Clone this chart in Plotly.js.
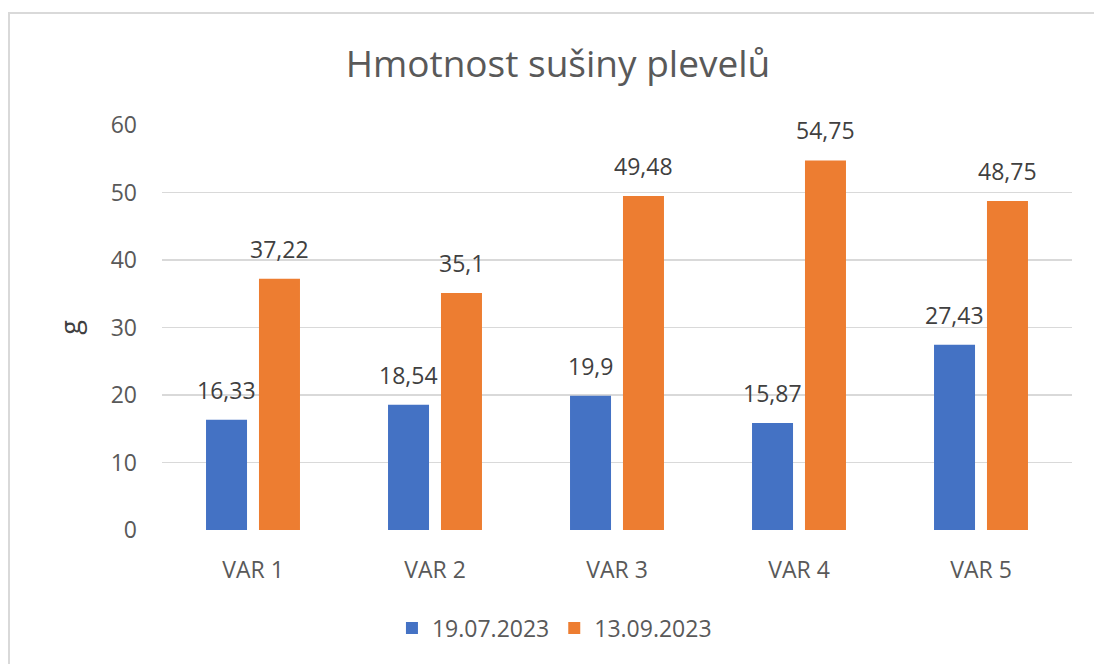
<!DOCTYPE html>
<html>
<head>
<meta charset="utf-8">
<script src="https://cdn.plot.ly/plotly-3.0.1.min.js"></script>
<style>
  html, body { margin: 0; padding: 0; background: #ffffff; }
  #wrap { position: relative; width: 1094px; height: 664px; overflow: hidden; }
  #chart { position: absolute; left: 0; top: 0; width: 1094px; height: 664px; }
  #frame { position: absolute; left: 8px; top: 12px; width: 1200px; height: 800px;
           border: 2px solid #d9d9d9; box-sizing: border-box; pointer-events: none; }
</style>
</head>
<body>
<div id="wrap">
  <div id="frame"></div>
  <div id="chart"></div>
</div>
<script>
const categories = ['VAR 1', 'VAR 2', 'VAR 3', 'VAR 4', 'VAR 5'];
const seriesNames = ['19.07.2023', '13.09.2023'];
const series1 = [16.33, 18.54, 19.9, 15.87, 27.43];
const series2 = [37.22, 35.1, 49.48, 54.75, 48.75];
const yTicks = [0, 10, 20, 30, 40, 50, 60];
const titleText = 'Hmotnost sušiny plevelů';
const yTitle = 'g';

const fontFam = '"Open Sans", "Noto Sans", sans-serif';
const colors = ['#4472C4', '#ED7D31'];
const fmt = v => String(v).replace('.', ',');

const traces = [series1, series2].map((vals, i) => ({
  type: 'bar',
  name: seriesNames[i],
  x: categories,
  y: vals,
  marker: { color: colors[i], line: { width: 0 } },
  hoverinfo: 'none'
}));

const annotations = [];
[series1, series2].forEach((vals, i) => {
  vals.forEach((v, j) => {
    annotations.push({
      x: categories[j], y: v, xref: 'x', yref: 'y',
      text: fmt(v), showarrow: false,
      xshift: i === 0 ? -26.5 : 26.5, yshift: 30,
      yanchor: 'middle', xanchor: 'center',
      font: { family: fontFam, size: 23, color: '#404040' }
    });
  });
});

const layout = {
  width: 1094, height: 664,
  margin: { l: 162, r: 22, t: 125, b: 134 },
  paper_bgcolor: 'rgba(0,0,0,0)',
  plot_bgcolor: 'rgba(0,0,0,0)',
  font: { family: fontFam, color: '#595959', size: 23 },
  title: { text: titleText, font: { family: fontFam, size: 37, color: '#595959' },
           x: 0.51, xanchor: 'center', y: 0.903, yanchor: 'middle' },
  barmode: 'group',
  bargap: 0.418,
  bargroupgap: 0.226,
  showlegend: true,
  legend: { orientation: 'h', x: 0.2527, xanchor: 'left', y: -0.242, yanchor: 'middle',
            font: { family: fontFam, size: 23, color: '#595959' }, itemclick: false },
  xaxis: { type: 'category', showgrid: false, zeroline: false, showline: false,
           ticks: '', ticklabelstandoff: 24, tickfont: { size: 23, color: '#595959' }, fixedrange: true },
  yaxis: { range: [0, 60], tickvals: yTicks, showgrid: true, gridcolor: '#d9d9d9', gridwidth: 1.5,
           zeroline: false, showline: false, ticks: '', ticklabelstandoff: 24,
           tickfont: { size: 23, color: '#595959' }, fixedrange: true,
           title: { text: yTitle, font: { size: 27, color: '#404040' }, standoff: 22 } },
  annotations: annotations
};

Plotly.newPlot('chart', traces, layout, { displayModeBar: false, staticPlot: true });
</script>
</body>
</html>
